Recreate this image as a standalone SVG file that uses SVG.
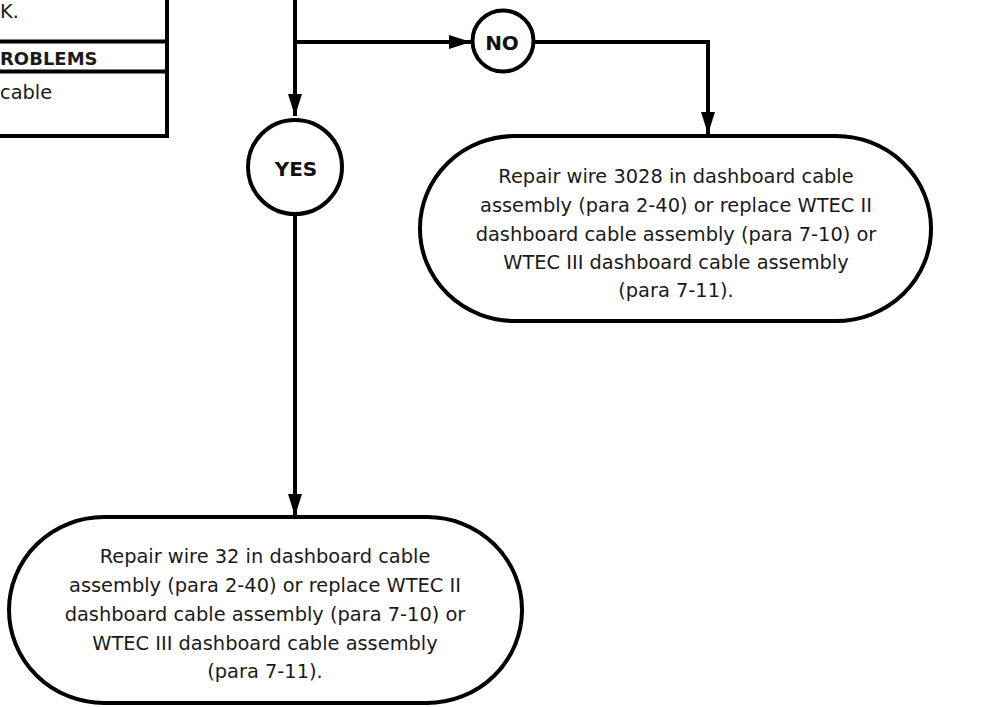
<svg xmlns="http://www.w3.org/2000/svg" width="987" height="707" viewBox="0 0 987 707">
<defs>
<marker id="arr" viewBox="0 0 22 14" refX="22" refY="7" markerWidth="22" markerHeight="14" markerUnits="userSpaceOnUse" orient="auto">
<path d="M0,0 L22,7 L0,14 Z" fill="#000"/>
</marker>
<style>
.s{fill:#fff;stroke:#000;stroke-width:4}
.c{fill:none;stroke:#000;stroke-width:4}
.t{font-family:"DejaVu Sans",sans-serif;font-size:19.4px;fill:#1a1a1a;text-anchor:middle}
.lb{font-family:"DejaVu Sans",sans-serif;font-size:19.4px;fill:#1a1a1a;text-anchor:start}
.b{font-family:"DejaVu Sans",sans-serif;font-size:20px;font-weight:bold;fill:#111;text-anchor:middle}
</style>
</defs>
<rect width="987" height="707" fill="#fff"/>
<g id="prev-box">
<path class="c" d="M-5,41.5 H167 M-5,71.5 H167 M167,-5 V136 H-5"/>
<text class="lb" x="0" y="18">K.</text>
<text class="lb" x="0" y="65" style="font-weight:bold;font-size:18px">ROBLEMS</text>
<text class="lb" x="0" y="99">cable</text>
</g>
<g id="connectors">
<path class="c" d="M295,-5 V116" marker-end="url(#arr)"/>
<path class="c" d="M295,42 H471" marker-end="url(#arr)"/>
<path class="c" d="M534,42 H708 V134" marker-end="url(#arr)"/>
<path class="c" d="M295,215 V516" marker-end="url(#arr)"/>
</g>
<g id="no">
<circle class="s" cx="503" cy="41" r="30.5"/>
<text class="b" x="502" y="50">NO</text>
</g>
<g id="yes">
<circle class="s" cx="295" cy="167" r="47"/>
<text class="b" x="296" y="176">YES</text>
</g>
<g id="repair-3028">
<rect class="s" x="420" y="136" width="511" height="185" rx="95" ry="92"/>
<text class="t" x="676" y="183">Repair wire 3028 in dashboard cable</text>
<text class="t" x="676" y="212">assembly (para 2-40) or replace WTEC II</text>
<text class="t" x="676" y="241">dashboard cable assembly (para 7-10) or</text>
<text class="t" x="676" y="269">WTEC III dashboard cable assembly</text>
<text class="t" x="676" y="297">(para 7-11).</text>
</g>
<g id="repair-32">
<rect class="s" x="9" y="517" width="513" height="186" rx="95" ry="93"/>
<text class="t" x="265" y="563">Repair wire 32 in dashboard cable</text>
<text class="t" x="265" y="592">assembly (para 2-40) or replace WTEC II</text>
<text class="t" x="265" y="621">dashboard cable assembly (para 7-10) or</text>
<text class="t" x="265" y="650">WTEC III dashboard cable assembly</text>
<text class="t" x="265" y="678">(para 7-11).</text>
</g>
</svg>
